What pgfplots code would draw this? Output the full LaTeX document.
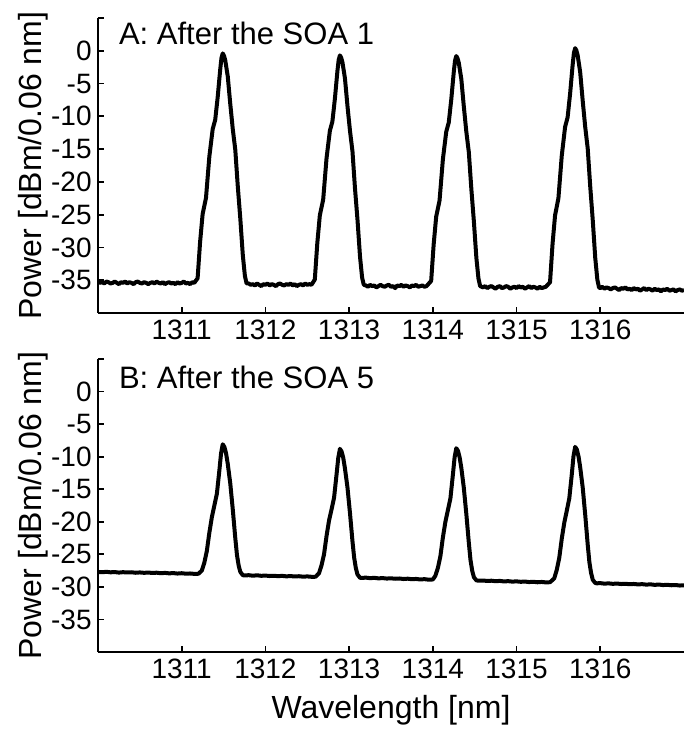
\documentclass[border=0pt]{standalone}
\usepackage{fontspec}
\setmainfont{Liberation Sans}
\usepackage{pgfplots}
\pgfplotsset{compat=1.18}

% one pixel of the reference = 0.5pt
\pgfplotsset{
  spec/.style={
    scale only axis, width=293pt,
    xmin=1310, xmax=1317, ymin=-40, ymax=5,
    axis lines=left, axis line style={-, line width=1pt, black},
    tick align=inside, major tick length=3pt,
    tick style={line width=0.9pt, black},
    xtick={1311,1312,1313,1314,1315,1316},
    xticklabels={1311,1312,1313,1314,1315,1316},
    ytick={-35,-30,-25,-20,-15,-10,-5,0,5},
    yticklabels={-35,-30,-25,-20,-15,-10,-5,0,{}},
    tick label style={font=\fontsize{14}{16}\selectfont},
    yticklabel style={inner xsep=3pt},
    label style={font=\fontsize{16}{19}\selectfont},
    ylabel={Power [dBm/0.06 nm]},
    ylabel style={at={(axis description cs:-0.0956,0.5)}, rotate=0, anchor=base},
  },
  trace/.style={black, line width=2pt, line join=round, mark=none},
}

\begin{document}
\begin{tikzpicture}
\useasboundingbox (-49pt,-38.5pt) rectangle (293pt,326pt);

% ---------------- A: after SOA 1 ----------------
\begin{axis}[spec, height=147.5pt, at={(0,169.5pt)}, anchor=south west]
\addplot[trace] coordinates {
 (1310.000,-35.2) (1310.025,-35.4) (1310.050,-35.3) (1310.075,-35.5) (1310.100,-35.2) (1310.125,-35.3)
 (1310.150,-35.5) (1310.175,-35.4) (1310.200,-35.2) (1310.225,-35.4) (1310.250,-35.6) (1310.275,-35.3)
 (1310.300,-35.4) (1310.325,-35.2) (1310.350,-35.5) (1310.375,-35.3) (1310.400,-35.4) (1310.425,-35.6)
 (1310.450,-35.3) (1310.475,-35.2) (1310.500,-35.4) (1310.525,-35.5) (1310.550,-35.3) (1310.575,-35.4)
 (1310.600,-35.6) (1310.625,-35.4) (1310.650,-35.3) (1310.675,-35.5) (1310.700,-35.2) (1310.725,-35.4)
 (1310.750,-35.5) (1310.775,-35.3) (1310.800,-35.6) (1310.825,-35.4) (1310.850,-35.3) (1310.875,-35.5)
 (1310.900,-35.4) (1310.925,-35.6) (1310.950,-35.3) (1310.975,-35.5) (1311.000,-35.4) (1311.025,-35.2)
 (1311.050,-35.5) (1311.075,-35.4) (1311.100,-35.6) (1311.125,-35.3) (1311.150,-35.4)
 (1311.19,-34.7) (1311.22,-29.1) (1311.25,-24.9) (1311.29,-22.45) (1311.33,-16.15) (1311.37,-11.95)
 (1311.40,-10.55) (1311.43,-7.05) (1311.46,-2.85) (1311.475,-1.1) (1311.49,-0.4) (1311.505,-0.75)
 (1311.52,-1.45) (1311.55,-3.9) (1311.58,-8.1) (1311.61,-11.95) (1311.64,-15.1) (1311.67,-20.7)
 (1311.70,-25.6) (1311.73,-31.2) (1311.755,-34.35) (1311.775,-35.5)
 (1311.800,-35.5) (1311.825,-35.7) (1311.850,-35.6) (1311.875,-35.8) (1311.900,-35.5) (1311.925,-35.7)
 (1311.950,-35.9) (1311.975,-35.6) (1312.000,-35.7) (1312.025,-35.5) (1312.050,-35.8) (1312.075,-35.6)
 (1312.100,-35.7) (1312.125,-35.9) (1312.150,-35.6) (1312.175,-35.5) (1312.200,-35.7) (1312.225,-35.8)
 (1312.250,-35.6) (1312.275,-35.7) (1312.300,-35.5) (1312.325,-35.8) (1312.350,-35.6) (1312.375,-35.9)
 (1312.400,-35.7) (1312.425,-35.6) (1312.450,-35.8) (1312.475,-35.5) (1312.500,-35.7) (1312.525,-35.6)
 (1312.550,-35.7)
 (1312.59,-34.9) (1312.62,-29.3) (1312.65,-25.1) (1312.69,-22.7) (1312.73,-16.4) (1312.77,-12.2)
 (1312.80,-10.8) (1312.83,-7.3) (1312.86,-3.1) (1312.875,-1.4) (1312.89,-0.7) (1312.905,-1.05)
 (1312.92,-1.75) (1312.95,-4.2) (1312.98,-8.4) (1313.01,-12.2) (1313.04,-15.35) (1313.07,-21.0)
 (1313.10,-25.8) (1313.13,-31.4) (1313.155,-34.6) (1313.175,-35.7)
 (1313.200,-35.8) (1313.225,-36.0) (1313.250,-35.7) (1313.275,-35.9) (1313.300,-35.8) (1313.325,-36.1)
 (1313.350,-35.9) (1313.375,-35.7) (1313.400,-35.9) (1313.425,-36.0) (1313.450,-35.8) (1313.475,-35.7)
 (1313.500,-36.0) (1313.525,-35.9) (1313.550,-36.2) (1313.575,-35.8) (1313.600,-35.9) (1313.625,-35.7)
 (1313.650,-36.0) (1313.675,-35.8) (1313.700,-35.9) (1313.725,-36.1) (1313.750,-35.8) (1313.775,-35.9)
 (1313.800,-35.7) (1313.825,-36.0) (1313.850,-35.9) (1313.875,-35.8) (1313.900,-36.0) (1313.925,-35.9)
 (1313.98,-35.1) (1314.01,-29.5) (1314.04,-25.3) (1314.08,-22.85) (1314.12,-16.55) (1314.16,-12.35)
 (1314.19,-10.95) (1314.22,-7.45) (1314.25,-3.25) (1314.265,-1.5) (1314.28,-0.8) (1314.295,-1.15)
 (1314.31,-1.85) (1314.34,-4.3) (1314.37,-8.5) (1314.40,-12.35) (1314.43,-15.5) (1314.46,-21.1)
 (1314.49,-26.0) (1314.52,-31.6) (1314.545,-34.75) (1314.565,-35.9)
 (1314.600,-36.1) (1314.625,-35.9) (1314.650,-36.2) (1314.675,-36.0) (1314.700,-35.9) (1314.725,-36.1)
 (1314.750,-36.3) (1314.775,-36.0) (1314.800,-35.9) (1314.825,-36.2) (1314.850,-36.1) (1314.875,-35.9)
 (1314.900,-36.0) (1314.925,-36.3) (1314.950,-36.1) (1314.975,-36.0) (1315.000,-36.2) (1315.025,-35.9)
 (1315.050,-36.1) (1315.075,-36.0) (1315.100,-36.3) (1315.125,-36.1) (1315.150,-35.9) (1315.175,-36.2)
 (1315.200,-36.0) (1315.225,-36.1) (1315.250,-36.3) (1315.275,-36.0) (1315.300,-36.2) (1315.325,-36.1)
 (1315.350,-36.0)
 (1315.40,-35.3) (1315.43,-29.45) (1315.46,-25.1) (1315.50,-22.5) (1315.54,-16.0) (1315.58,-11.6)
 (1315.61,-10.15) (1315.64,-6.5) (1315.67,-2.15) (1315.685,-0.35) (1315.70,0.4) (1315.715,0.05)
 (1315.73,-0.7) (1315.76,-3.25) (1315.79,-7.6) (1315.82,-11.6) (1315.85,-14.9) (1315.88,-20.7)
 (1315.91,-25.8) (1315.94,-31.6) (1315.965,-34.9) (1315.985,-36.1)
 (1316.000,-36.2) (1316.025,-36.0) (1316.050,-36.3) (1316.075,-36.1) (1316.100,-36.2) (1316.125,-36.4)
 (1316.150,-36.2) (1316.175,-36.1) (1316.200,-36.3) (1316.225,-36.5) (1316.250,-36.2) (1316.275,-36.3)
 (1316.300,-36.1) (1316.325,-36.4) (1316.350,-36.3) (1316.375,-36.5) (1316.400,-36.2) (1316.425,-36.4)
 (1316.450,-36.3) (1316.475,-36.6) (1316.500,-36.4) (1316.525,-36.2) (1316.550,-36.5) (1316.575,-36.3)
 (1316.600,-36.4) (1316.625,-36.6) (1316.650,-36.3) (1316.675,-36.5) (1316.700,-36.4) (1316.725,-36.7)
 (1316.750,-36.4) (1316.775,-36.5) (1316.800,-36.3) (1316.825,-36.6) (1316.850,-36.5) (1316.875,-36.4)
 (1316.900,-36.7) (1316.925,-36.5) (1316.950,-36.4) (1316.975,-36.6) (1317.000,-36.5)
};
\node[anchor=base west, font=\fontsize{15.5}{19}\selectfont] at (axis description cs:0.0239,0.9085) {A: After the SOA 1};
\end{axis}

% ---------------- B: after SOA 5 ----------------
\begin{axis}[spec, height=146.5pt, at={(0,0)}, anchor=south west,
  xlabel={Wavelength [nm]},
  xlabel style={at={(axis description cs:0.5,-0.2253)}, anchor=base}]
\addplot[trace] coordinates {
 (1310.00,-27.70) (1310.05,-27.75) (1310.10,-27.68) (1310.15,-27.76) (1310.20,-27.72) (1310.25,-27.80)
 (1310.30,-27.74) (1310.35,-27.79) (1310.40,-27.75) (1310.45,-27.83) (1310.50,-27.78) (1310.55,-27.84)
 (1310.60,-27.80) (1310.65,-27.86) (1310.70,-27.82) (1310.75,-27.90) (1310.80,-27.85) (1310.85,-27.92)
 (1310.90,-27.88) (1310.95,-27.95) (1311.00,-27.90) (1311.05,-27.97) (1311.10,-27.94) (1311.15,-28.00)
 (1311.20,-27.98)
 (1311.24,-27.5) (1311.27,-26.3) (1311.30,-24.5) (1311.33,-21.7) (1311.36,-19.3) (1311.39,-17.5)
 (1311.42,-15.7) (1311.45,-12.1) (1311.47,-9.5) (1311.49,-8.1) (1311.51,-8.5) (1311.53,-9.5)
 (1311.55,-11.1) (1311.58,-14.1) (1311.61,-18.1) (1311.64,-22.5) (1311.66,-25.1) (1311.68,-26.7)
 (1311.70,-27.7) (1311.73,-28.2)
 (1311.75,-28.25) (1311.80,-28.20) (1311.85,-28.28) (1311.90,-28.22) (1311.95,-28.30) (1312.00,-28.26)
 (1312.05,-28.33) (1312.10,-28.29) (1312.15,-28.35) (1312.20,-28.31) (1312.25,-28.38) (1312.30,-28.34)
 (1312.35,-28.40) (1312.40,-28.36) (1312.45,-28.43) (1312.50,-28.39) (1312.55,-28.45) (1312.60,-28.44)
 (1312.64,-27.9) (1312.67,-26.7) (1312.70,-25.0) (1312.73,-22.2) (1312.76,-19.8) (1312.79,-18.1)
 (1312.82,-16.3) (1312.85,-12.7) (1312.87,-10.2) (1312.89,-8.8) (1312.91,-9.2) (1312.93,-10.2)
 (1312.95,-11.8) (1312.98,-14.7) (1313.01,-18.65) (1313.04,-23.0) (1313.06,-25.5) (1313.08,-27.1)
 (1313.10,-28.1) (1313.13,-28.6)
 (1313.15,-28.62) (1313.20,-28.58) (1313.25,-28.66) (1313.30,-28.61) (1313.35,-28.69) (1313.40,-28.65)
 (1313.45,-28.72) (1313.50,-28.68) (1313.55,-28.75) (1313.60,-28.71) (1313.65,-28.79) (1313.70,-28.74)
 (1313.75,-28.82) (1313.80,-28.78) (1313.85,-28.86) (1313.90,-28.81) (1313.95,-28.89) (1314.00,-28.86)
 (1314.03,-28.3) (1314.06,-27.1) (1314.09,-25.3) (1314.12,-22.4) (1314.15,-20.0) (1314.18,-18.2)
 (1314.21,-16.4) (1314.24,-12.7) (1314.26,-10.1) (1314.28,-8.7) (1314.30,-9.1) (1314.32,-10.1)
 (1314.34,-11.7) (1314.37,-14.8) (1314.40,-18.8) (1314.43,-23.25) (1314.45,-25.9) (1314.47,-27.5)
 (1314.49,-28.5) (1314.52,-29.0)
 (1314.55,-29.05) (1314.60,-29.02) (1314.65,-29.09) (1314.70,-29.05) (1314.75,-29.13) (1314.80,-29.08)
 (1314.85,-29.16) (1314.90,-29.12) (1314.95,-29.19) (1315.00,-29.15) (1315.05,-29.22) (1315.10,-29.18)
 (1315.15,-29.26) (1315.20,-29.21) (1315.25,-29.29) (1315.30,-29.24) (1315.35,-29.31) (1315.40,-29.28)
 (1315.45,-28.7) (1315.48,-27.4) (1315.51,-25.55) (1315.54,-22.6) (1315.57,-20.15) (1315.60,-18.3)
 (1315.63,-16.4) (1315.66,-12.7) (1315.68,-9.95) (1315.70,-8.5) (1315.72,-8.9) (1315.74,-9.95)
 (1315.76,-11.6) (1315.79,-14.7) (1315.82,-18.9) (1315.85,-23.5) (1315.87,-26.2) (1315.89,-27.85)
 (1315.91,-28.9) (1315.94,-29.4)
 (1315.96,-29.45) (1316.00,-29.42) (1316.05,-29.50) (1316.10,-29.46) (1316.15,-29.53) (1316.20,-29.49)
 (1316.25,-29.56) (1316.30,-29.52) (1316.35,-29.59) (1316.40,-29.55) (1316.45,-29.62) (1316.50,-29.58)
 (1316.55,-29.65) (1316.60,-29.61) (1316.65,-29.69) (1316.70,-29.64) (1316.75,-29.72) (1316.80,-29.68)
 (1316.85,-29.75) (1316.90,-29.71) (1316.95,-29.79) (1317.00,-29.76)
};
\node[anchor=base west, font=\fontsize{15.5}{19}\selectfont] at (axis description cs:0.0239,0.901) {B: After the SOA 5};
\end{axis}
\end{tikzpicture}
\end{document}
